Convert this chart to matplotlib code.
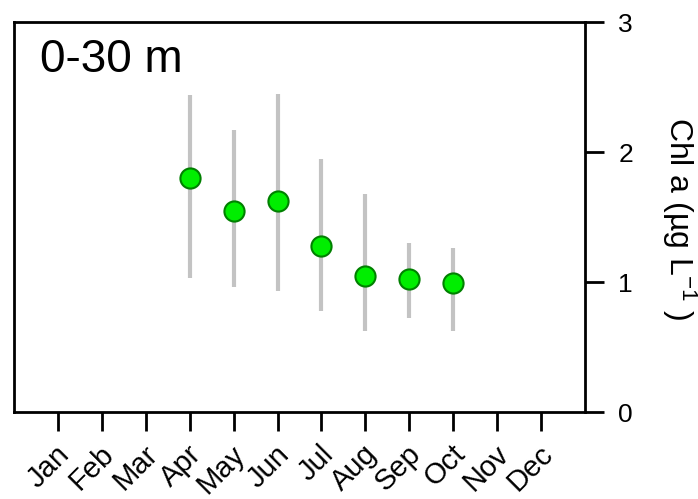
import matplotlib
matplotlib.use('Agg')
import matplotlib.pyplot as plt
import matplotlib.transforms as mtransforms
import numpy as np

plt.rcParams['font.family'] = ['Liberation Sans', 'DejaVu Sans']
plt.rcParams['mathtext.fontset'] = 'custom'
plt.rcParams['mathtext.rm'] = 'Liberation Sans'
plt.rcParams['mathtext.it'] = 'Liberation Sans:italic'

months = ['Jan', 'Feb', 'Mar', 'Apr', 'May', 'Jun',
          'Jul', 'Aug', 'Sep', 'Oct', 'Nov', 'Dec']
month_num = [4, 5, 6, 7, 8, 9, 10]
chl_mean = [1.80, 1.55, 1.62, 1.28, 1.05, 1.02, 0.99]
chl_low = [1.03, 0.96, 0.93, 0.78, 0.62, 0.72, 0.62]
chl_high = [2.44, 2.17, 2.45, 1.95, 1.68, 1.30, 1.26]

fig = plt.figure(figsize=(6.98, 4.99), dpi=100)
ax = fig.add_axes([14/698, 87/499, 571/698, 390/499])

m = np.array(chl_mean)
err = [m - np.array(chl_low), np.array(chl_high) - m]
ax.errorbar(month_num, chl_mean, yerr=err, fmt='none', ecolor='#c3c3c3',
            elinewidth=3, capsize=0, zorder=2)
ax.plot(month_num, chl_mean, 'o', ms=14.5, mfc='#00ee00', mec='#008000',
        mew=1.5, zorder=3)

ax.set_xlim(0, 13)
ax.set_ylim(0, 3)
ax.set_xticks(range(1, 13))
ax.set_xticklabels(months, fontsize=21)
ax.yaxis.tick_right()
ax.set_yticks([0, 1, 2, 3])
ax.tick_params(axis='both', direction='out', length=14, width=2)
ax.tick_params(axis='y', pad=10, labelsize=19)
ax.tick_params(axis='x', pad=5)
for s in ax.spines.values():
    s.set_linewidth(2)

# labels hang below and to the right of their ticks, like the original
shift = mtransforms.ScaledTranslation(0.13, -0.17, fig.dpi_scale_trans)
for lab in ax.get_xticklabels():
    lab.set_rotation(45)
    lab.set_ha('right')
    lab.set_va('baseline')
    lab.set_rotation_mode('anchor')
    lab.set_transform(lab.get_transform() + shift)

fig.text(40/698, (499-72)/499, '0-30 m', fontsize=33, va='baseline')
fig.text(679/698, (499-219)/499, r'Chl a (µg L$^{-1}$ )',
         rotation=270, ha='center', va='center', fontsize=23)

fig.savefig('out.png', dpi=100)
